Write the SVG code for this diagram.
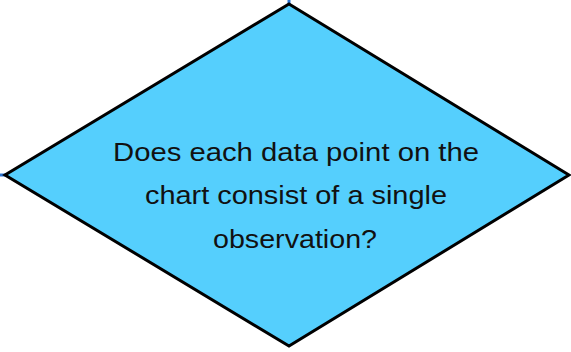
<svg xmlns="http://www.w3.org/2000/svg" width="571" height="352" viewBox="0 0 571 352">
<style>
.shape{fill:#55cffd;stroke:#000;stroke-width:3;stroke-linejoin:miter}
.lbl{font-family:"Liberation Sans",Arial,sans-serif;font-size:25px;fill:#111;text-anchor:middle}
.stub{stroke:#2a72d0;stroke-width:3}
</style>
<rect width="571" height="352" fill="#fff"/>
<g id="connectors">
<line class="stub" x1="289" y1="0" x2="289" y2="4"/>
<line class="stub" x1="0" y1="175" x2="5" y2="175"/>
</g>
<g id="decision">
<polygon class="shape" points="289,4 569,175 289,346 5,175"/>
<text class="lbl" x="296" y="161" textLength="366" lengthAdjust="spacingAndGlyphs">Does each data point on the</text>
<text class="lbl" x="296" y="204" textLength="302" lengthAdjust="spacingAndGlyphs">chart consist of a single</text>
<text class="lbl" x="295" y="248" textLength="164" lengthAdjust="spacingAndGlyphs">observation?</text>
</g>
</svg>
